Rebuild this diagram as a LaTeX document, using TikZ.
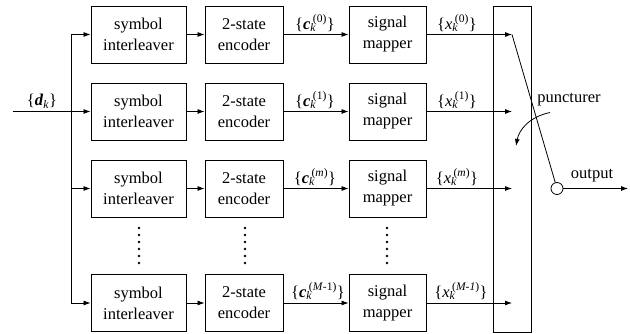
\documentclass[tikz,border=0pt]{standalone}
\usepackage{fontspec}
\setmainfont{Liberation Serif}
\usetikzlibrary{arrows.meta}
\newcommand{\sq}[2]{\{#1\rlap{\textsubscript{\textit{k}}}\kern2.5pt\raisebox{1pt}{\textsuperscript{#2}}\}}
\begin{document}
\begin{tikzpicture}[x=1pt,y=-1pt,
 blk/.style={draw,line width=0.9pt,minimum height=57pt,align=center,font=\fontsize{16.5}{21}\selectfont,inner sep=0pt},
 il/.style={blk,minimum width=95pt},
 en/.style={blk,minimum width=78pt},
 mp/.style={blk,minimum width=77pt},
 arr/.style={line width=0.8pt,-{Latex[length=7pt,width=5pt]}},
 ln/.style={line width=0.8pt},
 lbl/.style={font=\fontsize{16.5}{19}\selectfont,inner sep=0pt},
 dot/.style={fill,circle,inner sep=0pt,minimum size=2.6pt}]
\useasboundingbox (0,0) rectangle (630,334);
% blocks
\node[il] (i0) at (138.5,34.5) {symbol\\interleaver};
\node[il] (i1) at (138.5,111.5) {symbol\\interleaver};
\node[il] (i2) at (138.5,188.5) {symbol\\interleaver};
\node[il] (i3) at (138.5,303) {symbol\\interleaver};
\node[en] (e0) at (244,34.5) {2-state\\encoder};
\node[en] (e1) at (244,111.5) {2-state\\encoder};
\node[en] (e2) at (244,188.5) {2-state\\encoder};
\node[en] (e3) at (244,303) {2-state\\encoder};
\node[mp] (m0) at (387.5,34.5) {signal\\mapper};
\node[mp] (m1) at (387.5,111.5) {signal\\mapper};
\node[mp] (m2) at (387.5,188.5) {signal\\mapper};
\node[mp] (m3) at (387.5,303) {signal\\mapper};
\node[draw,line width=0.9pt,minimum width=38pt,minimum height=326pt,inner sep=0pt] (p) at (512,169) {};
% input
\coordinate (in) at (13,111.5);
\coordinate (b0) at (71,34.5);
\coordinate (b1) at (71,111.5);
\coordinate (b2) at (71,188.5);
\coordinate (b3) at (71,303);
\draw[ln] (in) -- (b1);
\draw[ln] (b0) -- (b3);
\foreach \k in {0,1,2,3}{
  \draw[arr] (b\k) -- (i\k.west);
  \draw[arr] (i\k.east) -- (e\k.west);
  \draw[arr] (e\k.east) -- (m\k.west);
}
\node[lbl] (dl) at (42,101) {\{\textbf{\textit{d}}\textsubscript{\textit{k}}\}};
% outputs into puncturer
\coordinate (t0) at (512,34.5);
\coordinate (t1) at (512,111.5);
\coordinate (t2) at (512,188.5);
\coordinate (t3) at (512,303);
\foreach \k in {0,1,2,3}{\draw[arr] (m\k.east) -- (t\k);}
% labels
\node[lbl] (c0) at (315,23) {\sq{\textbf{\textit{c}}}{(0)}};
\node[lbl] (c1) at (315,100) {\sq{\textbf{\textit{c}}}{(1)}};
\node[lbl] (c2) at (315,177) {\sq{\textbf{\textit{c}}}{(\textit{m})}};
\node[lbl] (c3) at (318,291) {\sq{\textbf{\textit{c}}}{(\textit{M}-1)}};
\node[lbl] (x0) at (457,23) {\sq{\textit{x}}{(0)}};
\node[lbl] (x1) at (457,100) {\sq{\textit{x}}{(1)}};
\node[lbl] (x2) at (457,177) {\sq{\textit{x}}{(\textit{m})}};
\node[lbl] (x3) at (461,291) {\sq{\textit{x}}{(\textit{M-1})}};
% dots
\foreach \xx in {139,245,387}{
  \foreach \yy in {228,235,242,249,256,263}{
    \node[dot] at (\xx,\yy) {};
  }
}
% switch
\node[draw,circle,minimum size=12pt,inner sep=0pt,line width=0.8pt] (sw) at (557,188.5) {};
\draw[ln] (t0) -- (sw);
\coordinate (out) at (628,188.5);
\draw[arr] (sw.east) -- (out);
\node[lbl] (ol) at (592,176) {output};
\node[lbl] (pl) at (569,100) {puncturer};
\coordinate (ps) at (550,112.5);
\coordinate (pe) at (516,146);
\draw[line width=0.8pt,-{Latex[length=7pt,width=5pt]}] (ps) .. controls (529,117) and (519,130) .. (pe);
\end{tikzpicture}
\end{document}
